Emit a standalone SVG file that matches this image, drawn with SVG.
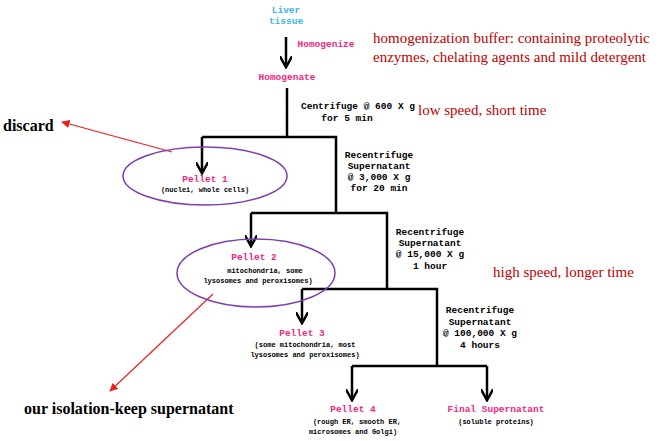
<svg xmlns="http://www.w3.org/2000/svg" width="667" height="441" viewBox="0 0 667 441">
<defs>
<marker id="ah" viewBox="0 0 10 10" refX="8" refY="5" markerWidth="5" markerHeight="5" orient="auto"><path d="M0,0 L9,5 L0,10" fill="none" stroke="#000" stroke-width="2"/></marker>
<marker id="rh" viewBox="0 0 10 10" refX="9" refY="5" markerWidth="7" markerHeight="7" orient="auto"><path d="M0,0 L10,5 L0,10 Z" fill="#e8231c"/></marker>
<style>
.m{font-family:"Liberation Mono",monospace;font-weight:bold;font-size:9.5px;fill:#000;text-anchor:middle}
.s{font-size:7px}
.p{fill:#f0287f}
.c{fill:#3ab7ea}
.r{font-family:"Liberation Serif",serif;font-size:15px;fill:#c00000}
.k{font-family:"Liberation Serif",serif;font-size:16px;font-weight:bold;fill:#000}
.ln{stroke:#000;stroke-width:2.5;fill:none}
.ell{fill:none;stroke:#7c3fb2;stroke-width:1.5}
</style>
</defs>
<g id="connectors">
<path class="ln" d="M286,37 V66" marker-end="url(#ah)"/>
<path class="ln" d="M287,88 V137 M202,137 H336 V213 M251,213 H387 V289 M302,289 H437 V366 M352,366 H487"/>
<path class="ln" d="M202,137 V172" marker-end="url(#ah)"/>
<path class="ln" d="M251,213 V245" marker-end="url(#ah)"/>
<path class="ln" d="M302,289 V322" marker-end="url(#ah)"/>
<path class="ln" d="M352,366 V399" marker-end="url(#ah)"/>
<path class="ln" d="M487,366 V399" marker-end="url(#ah)"/>
<path d="M172,152 L62,122" stroke="#e8231c" stroke-width="1.2" marker-end="url(#rh)"/>
<path d="M213,294 L110,391" stroke="#e8231c" stroke-width="1.2" marker-end="url(#rh)"/>
</g>
<g id="liver"><text class="m c" x="286" y="13">Liver</text><text class="m c" x="286" y="24">tissue</text></g>
<g id="homogenize"><text class="m p" x="326" y="47">Homogenize</text></g>
<g id="homogenate"><text class="m p" x="287" y="80">Homogenate</text></g>
<g id="c1"><text class="m" x="358" y="109">Centrifuge @ 600 X g</text><text class="m" x="347" y="121">for  5 min</text></g>
<g id="c2"><text class="m" x="379" y="158">Recentrifuge</text><text class="m" x="379" y="169">Supernatant</text><text class="m" x="379" y="180">@ 3,000 X g</text><text class="m" x="379" y="191">for 20 min</text></g>
<g id="c3"><text class="m" x="430" y="235">Recentrifuge</text><text class="m" x="430" y="246">Supernatant</text><text class="m" x="430" y="257">@ 15,000 X g</text><text class="m" x="430" y="269">1 hour</text></g>
<g id="c4"><text class="m" x="480" y="313">Recentrifuge</text><text class="m" x="480" y="325">Supernatant</text><text class="m" x="480" y="336">@ 100,000 X g</text><text class="m" x="480" y="348">4 hours</text></g>
<g id="pellet1"><ellipse class="ell" cx="205" cy="176" rx="82" ry="29"/><text class="m p" x="205" y="182">Pellet 1</text><text class="m s" x="205" y="192">(nuclei, whole cells)</text></g>
<g id="pellet2"><ellipse class="ell" cx="256" cy="273" rx="79" ry="34"/><text class="m p" x="254" y="260">Pellet 2</text><text class="m s" x="265" y="273">mitochondria, some</text><text class="m s" x="258" y="283">lysosomes and peroxisomes)</text></g>
<g id="pellet3"><text class="m p" x="302" y="336">Pellet 3</text><text class="m s" x="305" y="347">(some mitochondria, most</text><text class="m s" x="305" y="357">lysosomes and peroxisomes)</text></g>
<g id="pellet4"><text class="m p" x="353" y="412">Pellet 4</text><text class="m s" x="357" y="424">(rough ER, smooth ER,</text><text class="m s" x="353" y="434">microsomes and Golgi)</text></g>
<g id="final"><text class="m p" x="496" y="412">Final Supernatant</text><text class="m s" x="496" y="424">(soluble proteins)</text></g>
<g id="notes">
<text class="r" x="373" y="43">homogenization buffer: containing proteolytic</text>
<text class="r" x="373" y="62">enzymes, chelating agents and mild detergent</text>
<text class="r" x="418" y="115">low speed, short time</text>
<text class="r" x="493" y="277">high speed, longer time</text>
<text class="k" x="3" y="131">discard</text>
<text class="k" x="24" y="414">our isolation-keep supernatant</text>
</g>
</svg>
